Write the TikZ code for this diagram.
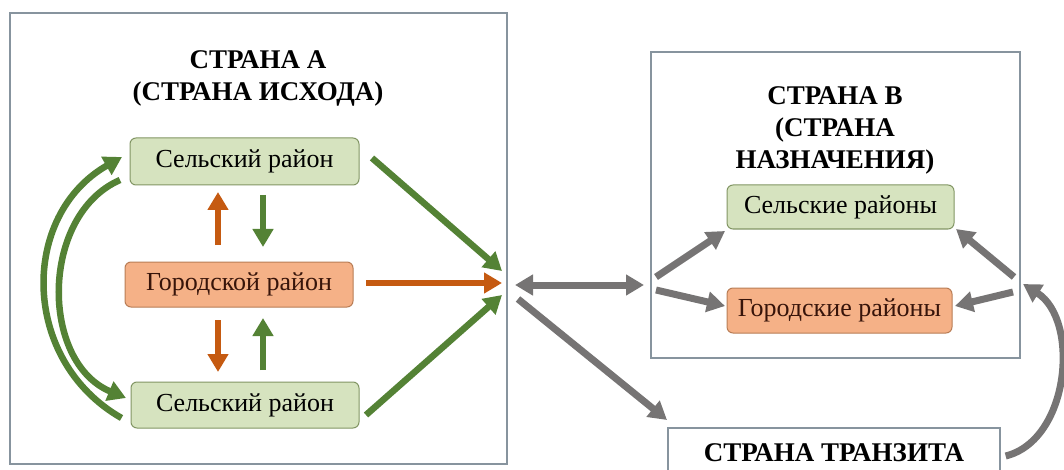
\documentclass[tikz,border=0pt]{standalone}
\usepackage{fontspec}
\setmainfont{Liberation Serif}
\usetikzlibrary{arrows.meta}
\definecolor{garrow}{RGB}{84,130,53}
\definecolor{oarrow}{RGB}{197,90,17}
\definecolor{gyarrow}{RGB}{118,116,116}
\definecolor{gfill}{RGB}{214,227,191}
\definecolor{gdraw}{RGB}{130,150,100}
\definecolor{ofill}{RGB}{245,177,135}
\definecolor{odraw}{RGB}{185,125,85}
\definecolor{frame}{RGB}{135,148,158}
\definecolor{otext}{RGB}{55,20,10}
\tikzset{
  frm/.style={draw=frame,line width=1.3pt,fill=white,inner sep=0pt},
  gbox/.style={draw=gdraw,line width=1pt,fill=gfill,rounded corners=6pt,inner sep=0pt,font=\fontsize{26}{30}\selectfont},
  obox/.style={draw=odraw,line width=1pt,fill=ofill,rounded corners=6pt,inner sep=0pt,text=otext,font=\fontsize{26}{30}\selectfont},
  ttl/.style={align=center,font=\fontsize{27}{32}\selectfont\bfseries},
  tip/.style={-{Triangle[length=18pt,width=20pt]}},
  ga/.style={tip,draw=garrow,line width=6.5pt},
  oa/.style={tip,draw=oarrow,line width=6.5pt},
  ya/.style={tip,draw=gyarrow,line width=7pt},
}
\begin{document}
\begin{tikzpicture}[x=1pt,y=-1pt]
\useasboundingbox (0,0) rectangle (1064,470);
% frames
\node[frm,minimum width=497pt,minimum height=451pt] (frameA) at (258.5,238.5) {};
\node[frm,minimum width=369pt,minimum height=306pt] (frameB) at (835.5,205) {};
\node[frm,minimum width=332pt,minimum height=60pt] (transit) at (834,458) {};
\node[ttl] (transitT) at (834,453) {СТРАНА ТРАНЗИТА};
% titles
\node[ttl] (titleA) at (258,78) {СТРАНА А\\(СТРАНА ИСХОДА)};
\node[ttl] (titleB) at (835,130) {СТРАНА В\\(СТРАНА\\НАЗНАЧЕНИЯ)};
% boxes A
\node[gbox,minimum width=229pt,minimum height=47pt] (ruralA1) at (244.5,161.5) {Сельский район};
\node[obox,minimum width=228pt,minimum height=45pt] (urbanA) at (239,284.5) {Городской район};
\node[gbox,minimum width=228pt,minimum height=46pt] (ruralA2) at (245,405) {Сельский район};
% boxes B
\node[gbox,minimum width=227pt,minimum height=44pt] (ruralB) at (840.5,207) {Сельские районы};
\node[obox,minimum width=225pt,minimum height=45pt] (urbanB) at (839.5,310.5) {Городские районы};
% hub points
\coordinate (hubT) at (502,271);
\coordinate (hubM) at (502,283);
\coordinate (hubB) at (502,295);
\coordinate (leftD) at (515,285);
\coordinate (rightD) at (644,285);
\coordinate (fanU) at (656,277);
\coordinate (fanD) at (656,290);
\coordinate (fromA) at (518,299);
\coordinate (rfanU) at (1014,277);
\coordinate (rfanD) at (1013,292);
\coordinate (curveEnd) at (1023,284);
% arrows inside A
\draw[oa] (218,245) -- (218,192);
\draw[ga] (263,195) -- (263,247);
\draw[oa] (218,320) -- (218,372);
\draw[ga] (263,370) -- (263,318);
\draw[ga] (ruralA2.west) ++(-9pt,-13pt) .. controls (20,360) and (20,215) .. (122,157);
\draw[ga] (120,180) .. controls (40,215) and (40,362) .. (126,398);
% to hub
\draw[ga] (372,158) -- (hubT);
\draw[oa] (366,283) -- (hubM);
\draw[ga] (366,415) -- (hubB);
% grey arrows
\draw[ya,{Triangle[length=18pt,width=20pt]}-{Triangle[length=18pt,width=20pt]}] (leftD) -- (rightD);
\draw[ya] (fanU) -- (725,231);
\draw[ya] (fanD) -- (725,306);
\draw[ya] (fromA) -- (667,420);
\draw[ya] (rfanU) -- (956,229);
\draw[ya] (rfanD) -- (955,306);
\draw[ya] (transit.east) ++(5pt,2pt) .. controls (1070,440) and (1080,320) .. (curveEnd);
\end{tikzpicture}
\end{document}
